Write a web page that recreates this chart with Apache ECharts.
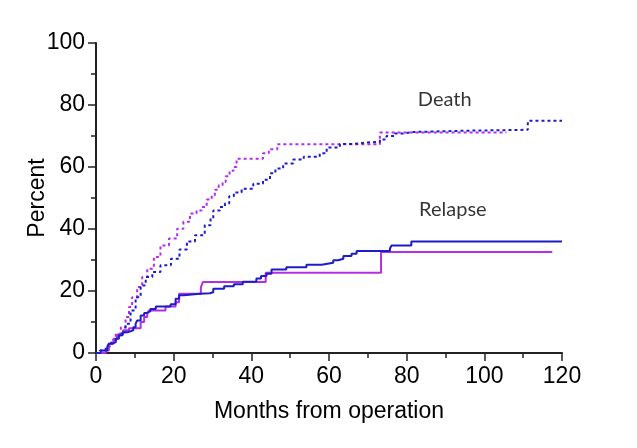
<!DOCTYPE html>
<html>
<head>
<meta charset="utf-8">
<script src="https://cdn.jsdelivr.net/npm/echarts@6/dist/echarts.min.js"></script>
<style>
html,body{margin:0;padding:0;background:#fff;}
#chart{width:637px;height:448px;}
</style>
</head>
<body>
<div id="chart"></div>
<script>
// 复发 (relapse), cumulative %, step points [month, percent]
var relapseBlue = [[0,0],[1.2,0.8],[2.9,1.9],[3.3,3.0],[4.2,3.5],[5.1,4.6],[5.9,5.7],[6.8,6.7],[8.1,7.3],[9.6,8.3],[10.2,9.4],[10.6,10.5],[11.5,12.1],[12.4,12.9],[13.2,13.5],[14.0,14.2],[15.4,15.0],[19.2,15.7],[20.5,17.5],[21.4,18.6],[22.6,19.1],[26.8,19.3],[29.3,19.6],[30.2,20.7],[33.0,21.5],[35.5,22.2],[37.8,23.0],[41.3,24.0],[42.5,24.8],[43.9,25.6],[45.2,26.9],[49.0,27.7],[54.2,28.5],[58.1,29.1],[61.1,29.9],[62.4,30.4],[63.7,31.3],[65.8,32.0],[67.1,32.9],[75.7,33.7],[76.1,34.7],[81.2,36.0],[120,36.0]];
var relapseMagenta = [[0,0],[2.5,0.8],[3.3,3.0],[4.5,4.6],[5.5,6.0],[7.0,7.3],[8.5,8.0],[11.5,10.0],[12.4,11.6],[13.2,12.7],[13.6,13.7],[17.9,15.0],[20.5,16.4],[21.4,19.1],[27.0,21.1],[27.5,22.9],[43.7,25.9],[73.4,32.6],[117.5,32.6]];

// 死亡 (death)
var deathBlue = [[0,0],[1,0.8],[2.5,1.9],[3.5,3.2],[4.5,4.4],[5.5,5.6],[6.4,6.7],[7.6,9.4],[8.9,13.7],[10.2,18.0],[11.5,21.8],[12.8,24.5],[14.5,26.1],[16.6,28.3],[19.3,30.4],[21.5,33.4],[23.4,36.0],[25.5,38.0],[28.0,41.2],[29.5,43.4],[30.2,46.0],[31.9,47.1],[33.2,48.2],[34.3,50.6],[35.5,51.8],[37.5,53.0],[40.5,54.6],[43.0,55.9],[44.8,58.0],[46.2,59.5],[48.2,61.1],[50.8,62.4],[53.5,63.3],[57.6,64.4],[59.4,66.3],[62.8,67.4],[66.2,67.9],[69.7,68.1],[73.1,68.9],[74.8,70.0],[76.9,70.8],[79.1,71.3],[81.7,71.7],[95.0,72.0],[111.2,74.9],[120,74.9]];
var deathMagenta = [[0,0],[2,1.0],[3,2.5],[4,4.0],[5.1,6.2],[6.4,8.3],[7.6,11.6],[8.5,14.8],[9.3,18.0],[10.6,21.3],[11.9,24.5],[13.2,27.2],[14.9,31.0],[16.6,34.7],[18.8,36.9],[20.9,40.1],[22.5,42.3],[24.2,45.0],[25.9,46.0],[27.2,47.1],[28.5,49.5],[29.8,50.9],[30.6,52.7],[31.6,54.1],[32.6,55.2],[33.4,57.0],[34.4,58.8],[35.4,60.0],[36.2,62.7],[43.0,64.4],[44.5,65.7],[46.7,67.3],[73.1,71.1],[105.7,71.1]];

// curve labels [month, percent, text]
var curveLabels = [[89.8,81.9,'Death'],[91.9,46.4,'Relapse']];

var blue = '#1c1cc8';
var magenta = '#b42ee6';

var myChart = echarts.init(document.getElementById('chart'));

function stepLine(data, color, dashed) {
    return {
        type: 'line',
        step: 'end',
        data: data,
        symbol: 'none',
        silent: true,
        lineStyle: {color: color, width: 2, type: dashed ? [3, 3] : 'solid'}
    };
}

var axisCommon = {
    axisLine: {show: true, onZero: false, lineStyle: {color: '#222', width: 2}},
    axisTick: {show: true, length: 8, lineStyle: {color: '#222', width: 1.5}},
    minorTick: {show: true, splitNumber: 2, length: 5, lineStyle: {color: '#222', width: 1.5}},
    splitLine: {show: false},
    nameMoveOverlap: false,
    axisLabel: {color: '#000', fontSize: 23, fontFamily: 'Liberation Sans'},
    nameTextStyle: {color: '#000', fontSize: 23, fontFamily: 'Liberation Sans'}
};

var option = {
    animation: false,
    backgroundColor: '#fff',
    grid: {left: 96, right: 75, top: 43, bottom: 95},
    xAxis: Object.assign({}, axisCommon, {
        type: 'value', min: 0, max: 120, interval: 20,
        name: 'Months from operation', nameLocation: 'middle', nameGap: 47,
        axisLabel: Object.assign({}, axisCommon.axisLabel, {margin: 12})
    }),
    yAxis: Object.assign({}, axisCommon, {
        type: 'value', min: 0, max: 100, interval: 20,
        name: 'Percent', nameLocation: 'middle', nameGap: 47,
        axisLabel: Object.assign({}, axisCommon.axisLabel, {margin: 11})
    }),
    series: [
        stepLine(deathMagenta, magenta, true),
        stepLine(deathBlue, blue, true),
        stepLine(relapseMagenta, magenta, false),
        stepLine(relapseBlue, blue, false),
        {
            type: 'scatter',
            symbolSize: 0,
            silent: true,
            data: curveLabels,
            label: {
                show: true, position: 'inside', color: '#000',
                fontSize: 20, fontFamily: 'Lato',
                formatter: function (p) { return p.value[2]; }
            }
        }
    ]
};

myChart.setOption(option);
</script>
</body>
</html>
